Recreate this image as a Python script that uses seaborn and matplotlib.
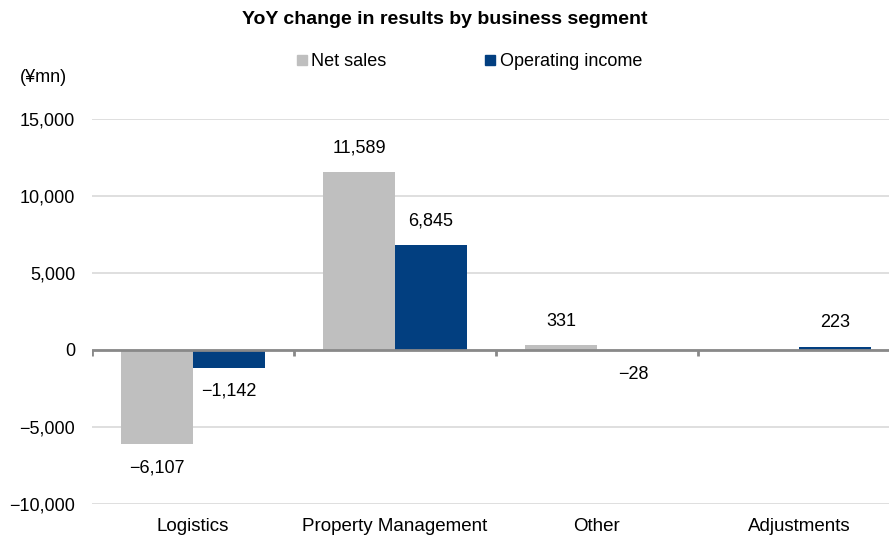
import matplotlib
matplotlib.use("Agg")
import matplotlib.pyplot as plt
from matplotlib.lines import Line2D
import seaborn as sns
import pandas as pd

segments = ["Logistics", "Property Management", "Other", "Adjustments"]
series_names = ["Net sales", "Operating income"]
net_sales = [-6107, 11589, 331, 0]
operating_income = [-1142, 6845, -28, 223]
y_ticks = [-10000, -5000, 0, 5000, 10000, 15000]

title = "YoY change in results by business segment"
unit_label = "(¥mn)"

GRAY = "#BFBFBF"
BLUE = "#023F80"

df = pd.DataFrame({
    "segment": segments * 2,
    "series": [series_names[0]] * len(segments) + [series_names[1]] * len(segments),
    "value": net_sales + operating_income,
})

sns.set_theme(style="white")
plt.rcParams["font.family"] = ["Liberation Sans", "DejaVu Sans"]
plt.rcParams["text.color"] = "black"
FS = 13

W, H = 889, 541
fig = plt.figure(figsize=(W / 100, H / 100), dpi=100)
ax = fig.add_axes([92 / W, 37 / H, 808 / W, 385 / H])

sns.barplot(data=df, x="segment", y="value", hue="series", order=segments,
            hue_order=series_names, palette=[GRAY, BLUE], saturation=1,
            width=0.713, gap=0, legend=False, ax=ax, zorder=3,
            edgecolor="none", linewidth=0)

ax.set_xlim(-0.5, len(segments) - 0.5)
ax.set_ylim(y_ticks[0], y_ticks[-1])
ax.set_yticks(y_ticks)
ax.set_yticklabels([f"{v:,}".replace("-", "\u2212") for v in y_ticks], fontsize=FS, color="black")
ax.set_xticks(range(len(segments)))
ax.set_xticklabels(segments, fontsize=13.5, color="black")
ax.tick_params(axis="y", length=0, pad=12)
ax.tick_params(axis="x", length=0, pad=10)
ax.set_xlabel("")
ax.set_ylabel("")
for s in ax.spines.values():
    s.set_visible(False)

ax.yaxis.grid(True, color="#D9D9D9", linewidth=1.2, zorder=0)
ax.set_axisbelow(True)

# zero axis line with category boundary ticks
ax.axhline(0, color="#898989", linewidth=2, zorder=4)
trans = ax.get_xaxis_transform()
tick_len = 6 / 385  # axes fraction
zero_frac = (0 - y_ticks[0]) / (y_ticks[-1] - y_ticks[0])
for i in range(len(segments)):
    ax.plot([i - 0.5, i - 0.5], [zero_frac, zero_frac - tick_len], transform=trans,
            color="#898989", linewidth=2, zorder=4, solid_capstyle="butt")

# data labels
for cont, vals in zip(ax.containers, [net_sales, operating_income]):
    labels = ["" if v == 0 else f"{v:,}".replace("-", "\u2212") for v in vals]
    ax.bar_label(cont, labels=labels, padding=11, fontsize=FS, color="black")

fig.text(445 / W, 1 - 20 / H, title, ha="center", va="center", fontsize=14, fontweight="bold",
         color="black")
fig.text(20 / W, 1 - 77 / H, unit_label, ha="left", va="center", fontsize=FS, color="black")

handles = [Line2D([], [], marker="s", linestyle="", color=c, markersize=7) for c in [GRAY, BLUE]]
fig.legend(handles, series_names, loc="center", bbox_to_anchor=(469 / W, 1 - 62 / H),
           ncol=2, frameon=False, fontsize=FS, handlelength=0.6, handletextpad=0.25,
           columnspacing=5.4, borderpad=0)

fig.savefig("out.png", dpi=100)
